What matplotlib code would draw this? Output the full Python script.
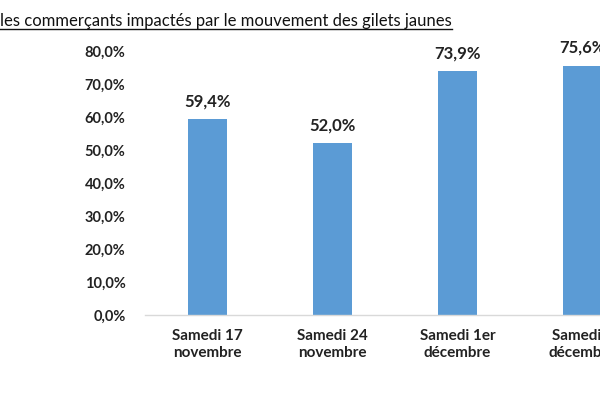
import matplotlib
matplotlib.use("Agg")
import matplotlib.pyplot as plt
from matplotlib.lines import Line2D

plt.rcParams['font.family'] = ['Lato', 'DejaVu Sans']

# Données
categories = ["Samedi 17\nnovembre", "Samedi 24\nnovembre", "Samedi 1er\ndécembre", "Samedi 8\ndécembre"]
valeurs = [59.4, 52.0, 73.9, 75.6]
etiquettes = ["59,4%", "52,0%", "73,9%", "75,6%"]
graduations = [0, 10, 20, 30, 40, 50, 60, 70, 80]
titre = "les commerçants impactés par le mouvement des gilets jaunes"

fig = plt.figure(figsize=(6, 4), dpi=100)
# l'axe déborde à droite : le graphique d'origine est rogné
ax = fig.add_axes([0.2417, 0.2125, 0.8333, 0.66])

x = range(len(categories))
ax.bar(x, valeurs, width=0.31, color="#5B9BD5", zorder=2)

for xi, v, lab in zip(x, valeurs, etiquettes):
    ax.text(xi, v + 3.0, lab, ha="center", va="bottom", fontsize=12,
            fontweight="bold", color="#222222")

ax.set_xlim(-0.5, len(categories) - 0.5)
ax.set_ylim(0, 80)
ax.set_yticks(graduations)
ax.set_yticklabels([f"{g},0%" for g in graduations], fontsize=10.5,
                   fontweight="bold", color="#222222")
ax.set_xticks(list(x))
ax.set_xticklabels(categories, fontsize=11, fontweight="bold", color="#222222",
                   linespacing=1.3)
ax.tick_params(axis="both", length=0)
ax.tick_params(axis="x", pad=10)
ax.tick_params(axis="y", pad=14)

for s in ["top", "right", "left"]:
    ax.spines[s].set_visible(False)
ax.spines["bottom"].set_color("#D9D9D9")
ax.spines["bottom"].set_linewidth(1)

# Titre souligné
t = fig.text(0.0, 0.935, titre, fontsize=12, ha="left", va="baseline", color="#111111")
fig.canvas.draw()
bb = t.get_window_extent().transformed(fig.transFigure.inverted())
fig.add_artist(Line2D([bb.x0, bb.x1], [0.935 - 0.008, 0.935 - 0.008],
                      transform=fig.transFigure, color="#111111", linewidth=1))

fig.savefig("out.png", dpi=100)
